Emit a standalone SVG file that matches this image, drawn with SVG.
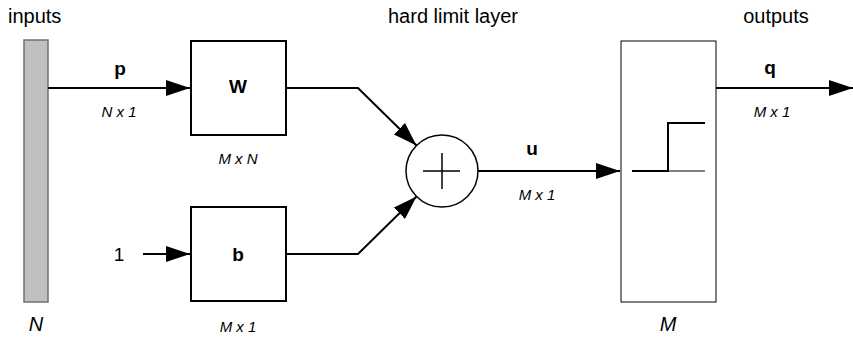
<svg xmlns="http://www.w3.org/2000/svg" width="853" height="338" viewBox="0 0 853 338">
<style>
text{font-family:"Liberation Sans",Arial,sans-serif;fill:#000}
.lbl{font-size:20px}
.var{font-size:19px;font-weight:bold;text-anchor:middle}
.dim{font-size:15px;font-style:italic;text-anchor:middle}
.big{font-size:20px;font-style:italic;text-anchor:middle}
.box{fill:#fff;stroke:#000;stroke-width:2}
.conn{fill:none;stroke:#000;stroke-width:2}
</style>
<defs>
<marker id="arr" markerUnits="userSpaceOnUse" markerWidth="24" markerHeight="16" refX="24" refY="8" orient="auto" viewBox="0 0 24 16">
<path d="M0,0 L24,8 L0,16 z" fill="#000"/>
</marker>
</defs>
<text class="lbl" x="8" y="23">inputs</text>
<text class="lbl" x="453" y="23" text-anchor="middle">hard limit layer</text>
<text class="lbl" x="776" y="23" text-anchor="middle">outputs</text>
<g id="inputs">
<rect x="24" y="40" width="24" height="262" fill="#c0c0c0" stroke="#707070" stroke-width="1.5"/>
<text class="big" x="36" y="331">N</text>
</g>
<g id="W">
<rect class="box" x="191" y="41" width="95" height="94"/>
<text class="var" x="238" y="93">W</text>
<text class="dim" x="238" y="164">M x N</text>
</g>
<g id="b">
<rect class="box" x="191" y="207" width="95" height="94"/>
<text class="var" x="238" y="261">b</text>
<text class="dim" x="238" y="332">M x 1</text>
</g>
<g id="one">
<text x="119" y="261" font-size="19" text-anchor="middle">1</text>
</g>
<g id="sum">
<circle cx="442" cy="171" r="36" fill="#fff" stroke="#000" stroke-width="1.5"/>
<path d="M423,171 H460 M442,153 V189" stroke="#000" stroke-width="1.5"/>
</g>
<g id="hardlim">
<rect x="621" y="41" width="95" height="261" fill="#fff" stroke="#000" stroke-width="1"/>
<path d="M632,171 H668 V123 H705" fill="none" stroke="#000" stroke-width="2"/>
<path d="M668,171 H705" stroke="#000" stroke-width="1"/>
<text class="big" x="668" y="331">M</text>
</g>
<g id="connectors">
<line class="conn" x1="48" y1="88" x2="190" y2="88" marker-end="url(#arr)"/>
<text class="var" x="120" y="75">p</text>
<text class="dim" x="119" y="117">N x 1</text>
<line class="conn" x1="143" y1="254" x2="190" y2="254" marker-end="url(#arr)"/>
<polyline class="conn" points="286,88 358,88 416.5,145.5" marker-end="url(#arr)"/>
<polyline class="conn" points="286,254 358,254 416.5,196.5" marker-end="url(#arr)"/>
<line class="conn" x1="478" y1="171" x2="620" y2="171" marker-end="url(#arr)"/>
<text class="var" x="532" y="155">u</text>
<text class="dim" x="537" y="200">M x 1</text>
<line class="conn" x1="716" y1="88" x2="853" y2="88" marker-end="url(#arr)"/>
<text class="var" x="770" y="74">q</text>
<text class="dim" x="772" y="117">M x 1</text>
</g>
</svg>
